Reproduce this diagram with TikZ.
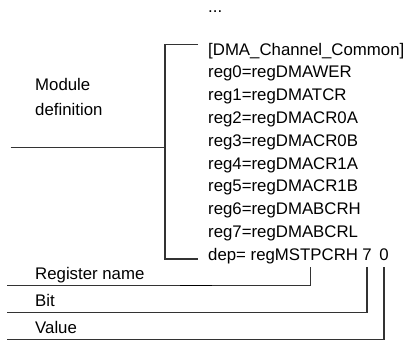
\documentclass[tikz,border=0pt]{standalone}
\usepackage{fontspec}
\setmainfont{Liberation Sans}
\usetikzlibrary{positioning, calc}

\begin{document}
\begin{tikzpicture}[
		x=1pt, y=-1pt,
		line/.style={font=\fontsize{16.8}{22.8}\selectfont, anchor=base west, inner sep=0pt},
		tag/.style={font=\fontsize{16.8}{25}\selectfont, anchor=base west, inner sep=0pt, align=left},
		wire/.style={draw=black!80, line width=1.1pt}
		]
		\useasboundingbox (0,0) rectangle (411,341);
		
		% ==========================================
		% 1. The ini block
		% ==========================================
		\node[line] (dots) at (208,12) {...};
		\node[line] (head) at (208,55) {[DMA\_Channel\_Common]};
		\foreach \i/\r in {0/WER, 1/TCR, 2/CR0A, 3/CR0B, 4/CR1A, 5/CR1B, 6/BCRH, 7/BCRL} {
			\node[line] (reg\i) at (208,{55+22.83*(\i+1)}) {reg\i=regDMA\r};
		}
		\node[line] (dep) at (208,260.5) {dep= regMSTPCRH};
		\node[line, anchor=base] (depbit) at (367,260.5) {7};
		\node[line, anchor=base] (depval) at (384,260.5) {0};
		
		% ==========================================
		% 2. Module definition bracket
		% ==========================================
		\coordinate (spinetop) at (165,44.3);
		\coordinate (spinebot) at (165,259);
		\coordinate (brtop) at (198,44.3);
		\coordinate (brbot) at (198,259);
		\coordinate (modend) at (10.7,147.3);
		\draw[wire] (brtop) -- (spinetop) -- (spinebot) -- (brbot);
		\draw[wire] (modend) -- (spinetop |- modend);
		\node[tag] (modlbl) at (35,115) {Module\\definition};
		
		% ==========================================
		% 3. Register name, bit and value
		% ==========================================
		\coordinate (regtick) at (310.7,267.3);
		\coordinate (regend) at (7.3,285.7);
		\coordinate (bitend) at (7.3,312.7);
		\coordinate (valend) at (7.3,339.3);
		\draw[wire] (regtick) |- (regend);
		\draw[wire] ([yshift=-6.2pt]depbit.south) |- (bitend);
		\draw[wire] ([yshift=-6.2pt]depval.south) |- (valend);
		\draw[black, line width=1.5pt] (180,285.7) -- (212,285.7);
		
		\node[tag] (reglbl) at (35,279) {Register name};
		\node[tag] (bitlbl) at (35,306) {Bit};
		\node[tag] (vallbl) at (35,333) {Value};
		
	\end{tikzpicture}
\end{document}
